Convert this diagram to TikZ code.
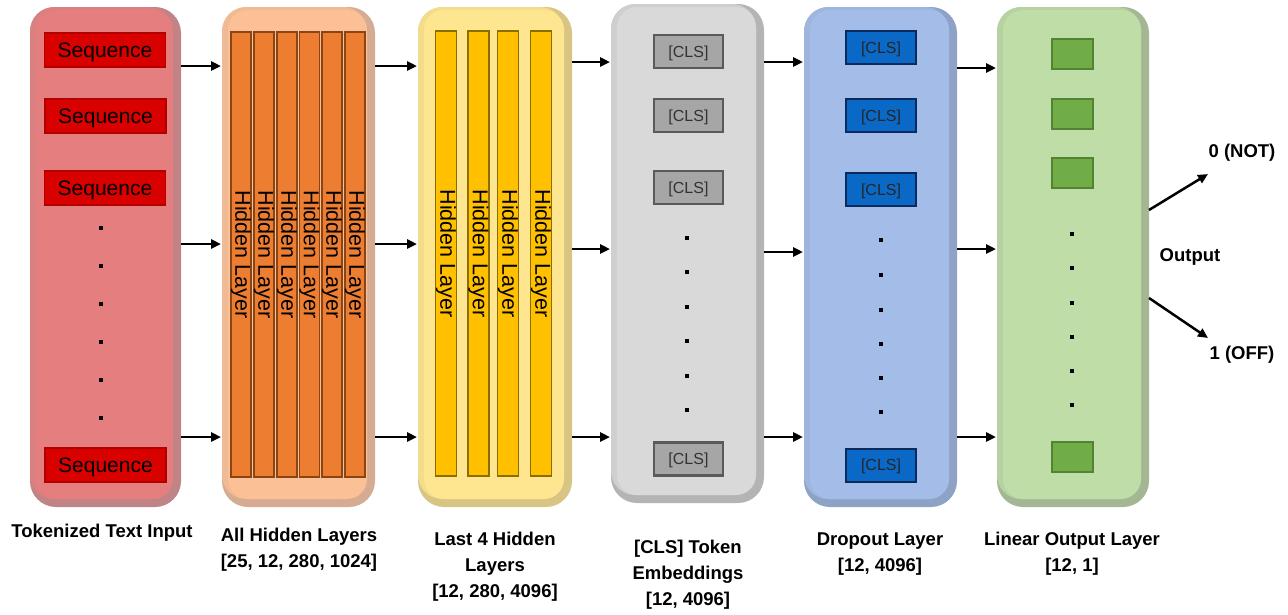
\documentclass[tikz,border=0pt]{standalone}
\usepackage{fontspec}
\setmainfont{Liberation Sans}
\usetikzlibrary{arrows.meta,calc}
\definecolor{redframe}{HTML}{C08386}
\definecolor{redface}{HTML}{E57E7F}
\definecolor{seqred}{HTML}{D90000}
\definecolor{seqborder}{HTML}{B00000}
\definecolor{orframe}{HTML}{D5AC92}
\definecolor{orface}{HTML}{FBC096}
\definecolor{orbar}{HTML}{ED7D31}
\definecolor{orbarb}{HTML}{8A4514}
\definecolor{yeframe}{HTML}{D8C483}
\definecolor{yeface}{HTML}{FEE590}
\definecolor{yebar}{HTML}{FFC000}
\definecolor{yebarb}{HTML}{8C6D00}
\definecolor{grframe}{HTML}{B4B4B4}
\definecolor{grface}{HTML}{D9D9D9}
\definecolor{grbox}{HTML}{A6A6A6}
\definecolor{grboxb}{HTML}{5A5A5A}
\definecolor{blframe}{HTML}{8EA2C6}
\definecolor{blface}{HTML}{A4BDE8}
\definecolor{blbox}{HTML}{0A68C6}
\definecolor{blboxb}{HTML}{0B2A5C}
\definecolor{gnframe}{HTML}{A3B794}
\definecolor{gnface}{HTML}{BEDDA7}
\definecolor{gnbox}{HTML}{70AD47}
\definecolor{gnboxb}{HTML}{548235}
\tikzset{
  panel/.style={rounded corners=26pt, inner sep=0pt, outer sep=0pt, minimum height=500pt},
  seqbox/.style={fill=seqred, draw=seqborder, line width=1.2pt, minimum width=121pt, minimum height=34pt, inner sep=0pt, text height=15pt, text depth=0pt, font=\fontsize{21}{24}\selectfont},
  obar/.style={fill=orbar, draw=orbarb, line width=1.5pt, rotate=-90, minimum width=445pt, minimum height=18pt, inner sep=0pt, font=\fontsize{21.5}{24}\selectfont},
  ybar/.style={fill=yebar, draw=yebarb, line width=1.5pt, rotate=-90, minimum width=445pt, minimum height=21pt, inner sep=0pt, font=\fontsize{21.5}{24}\selectfont},
  gbox/.style={fill=grbox, draw=grboxb, line width=2.2pt, minimum width=69pt, minimum height=33pt, inner sep=0pt, text height=11.5pt, text depth=0pt, text=black!80, font=\fontsize{16}{18}\selectfont},
  bbox/.style={fill=blbox, draw=blboxb, line width=2pt, minimum width=70pt, minimum height=33pt, inner sep=0pt, text height=11.5pt, text depth=0pt, text=black!85, font=\fontsize{16}{18}\selectfont},
  gsq/.style={fill=gnbox, draw=gnboxb, line width=2pt, minimum width=41pt, minimum height=30pt, inner sep=0pt},
  dot/.style={fill=black, minimum size=4pt, inner sep=0pt},
  arr/.style={line width=2.5pt, -{Triangle[length=10pt,width=9pt]}, shorten >=1pt},
  lbl/.style={font=\bfseries\fontsize{18.5}{26}\selectfont, align=center, inner sep=0pt},
}
\newcommand{\mypanel}[7]{%
  \node[panel, fill=#6, minimum width=#4pt, minimum height=#5pt] (#1) at (#2,#3) {};
  \fill[#7!72!#6, rounded corners=24pt] (#1.north west) rectangle ($(#1.south east)+(-8pt,8pt)$);
  \fill[#7, rounded corners=20pt] ($(#1.north west)+(6pt,-3pt)$) rectangle ($(#1.south east)+(-8pt,8pt)$);
}
\begin{document}
\begin{tikzpicture}[x=1pt,y=-1pt]
\useasboundingbox (0,0) rectangle (1288,614);
% panels
\mypanel{p1}{105.5}{257}{151}{500}{redframe}{redface}
\mypanel{p2}{298.5}{257}{153}{500}{orframe}{orface}
\mypanel{p3}{495}{257}{154}{500}{yeframe}{yeface}
\mypanel{p4}{687.5}{253.5}{153}{499}{grframe}{grface}
\mypanel{p5}{880.5}{257}{153}{500}{blframe}{blface}
\mypanel{p6}{1073}{257}{152}{500}{gnframe}{gnface}
% panel 1
\node[seqbox] (s1) at (105,50) {Sequence};
\node[seqbox] (s2) at (105.5,116) {Sequence};
\node[seqbox] (s3) at (105,188) {Sequence};
\node[seqbox] (s4) at (105.5,465) {Sequence};
\foreach \y [count=\i] in {228,266,304,342,380,418} \node[dot] (d1\i) at (101,\y) {};
% panel 2
\foreach \x [count=\i] in {241,264,287,309.5,332,355} \node[obar] (h\i) at (\x,254.5) {Hidden Layer};
% panel 3
\foreach \x [count=\i] in {446,478.5,508,541} \node[ybar] (l\i) at (\x,253.5) {Hidden Layer};
% panel 4
\foreach \y [count=\i] in {51.5,115.5,187.5,459} \node[gbox] (c\i) at (688.5,\y) {[CLS]};
\foreach \y [count=\i] in {238,272,307,341,376,410} \node[dot] (d4\i) at (687,\y) {};
% panel 5
\foreach \y [count=\i] in {47.5,115.5,189.5,465} \node[bbox] (b\i) at (881,\y) {[CLS]};
\foreach \y [count=\i] in {240,275,310,344,378,412} \node[dot] (d5\i) at (881,\y) {};
% panel 6
\foreach \y [count=\i] in {53.5,113.5,173,457} \node[gsq] (g\i) at (1072.5,\y) {};
\foreach \y [count=\i] in {234,268,303,337,371,405} \node[dot] (d6\i) at (1072,\y) {};
% arrows
\foreach \y in {66,244,437} \draw[arr] (p1.east |- 0,\y) -- (p2.west |- 0,\y);
\foreach \y in {66,244,437} \draw[arr] (p2.east |- 0,\y) -- (p3.west |- 0,\y);
\foreach \y in {62,249,437} \draw[arr] (p3.east |- 0,\y) -- (p4.west |- 0,\y);
\foreach \y in {62,252,437} \draw[arr] (p4.east |- 0,\y) -- (p5.west |- 0,\y);
\foreach \y in {68,249,437} \draw[arr] (p5.east |- 0,\y) -- (p6.west |- 0,\y);
% outputs
\coordinate (t0) at (1208,174);
\coordinate (t1) at (1208,338);
\draw[arr, shorten >=0pt] (p6.east |- 0,210) -- (t0);
\draw[arr, shorten >=0pt] (p6.east |- 0,298) -- (t1);
\node[lbl] (o0) at (1242,153) {0 (NOT)};
\node[lbl] (out) at (1190,257) {Output};
\node[lbl] (o1) at (1242,355) {1 (OFF)};
% bottom labels
\node[lbl] (n1) at (102,533) {Tokenized Text Input};
\node[lbl] (n2) at (299,549.5) {All Hidden Layers\\{}[25, 12, 280, 1024]};
\node[lbl] (n3) at (495,567) {Last 4 Hidden\\Layers\\{}[12, 280, 4096]};
\node[lbl] (n4) at (688,575) {[CLS] Token\\Embeddings\\{}[12, 4096]};
\node[lbl] (n5) at (880,554) {Dropout Layer\\{}[12, 4096]};
\node[lbl] (n6) at (1072,553.5) {Linear Output Layer\\{}[12, 1]};
\end{tikzpicture}
\end{document}
